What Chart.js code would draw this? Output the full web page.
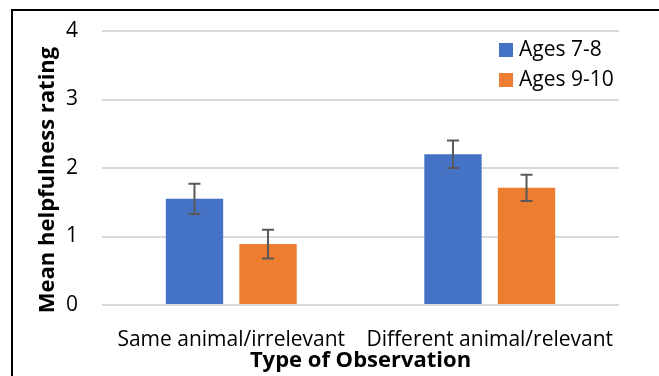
<!DOCTYPE html>
<html>
<head>
<meta charset="utf-8">
<script src="https://cdn.jsdelivr.net/npm/chart.js@4"></script>
<style>
  html, body { margin: 0; padding: 0; background: #fff; }
  #wrap { position: relative; width: 659px; height: 376px; overflow: hidden; }
  #frame { position: absolute; left: 11px; top: 9px; width: 800px; height: 500px;
           border-left: 2px solid #000; border-top: 2px solid #000; }
  canvas { position: absolute; left: 0; top: 0; }
</style>
</head>
<body>
<div id="wrap">
  <div id="frame"></div>
  <canvas id="grafico" width="659" height="376"></canvas>
</div>
<script>
const categorias = ["Same animal/irrelevant", "Different animal/relevant"];
const series = ["Ages 7-8", "Ages 9-10"];
const edades78 = [1.55, 2.20];
const error78 = [0.22, 0.20];
const edades910 = [0.89, 1.71];
const error910 = [0.21, 0.19];
const ticksY = [0, 1, 2, 3, 4];
const tituloY = "Mean helpfulness rating";

const fuente = "'Open Sans', sans-serif";

// error bars drawn from the y scale
const barrasError = {
  id: "barrasError",
  afterDatasetsDraw(chart) {
    const ctx = chart.ctx;
    const y = chart.scales.y;
    ctx.save();
    ctx.strokeStyle = "#595959";
    ctx.lineWidth = 2;
    chart.data.datasets.forEach((ds, i) => {
      chart.getDatasetMeta(i).data.forEach((bar, j) => {
        const v = ds.data[j], e = ds.errores[j];
        const top = y.getPixelForValue(v + e);
        const bot = y.getPixelForValue(v - e);
        ctx.beginPath();
        ctx.moveTo(bar.x, top); ctx.lineTo(bar.x, bot);
        ctx.moveTo(bar.x - 6, top); ctx.lineTo(bar.x + 6, top);
        ctx.moveTo(bar.x - 6, bot); ctx.lineTo(bar.x + 6, bot);
        ctx.stroke();
      });
    });
    ctx.restore();
  }
};

// legend inside the plot (top right) + y title, a bit below the axis centre like Excel
const extras = {
  id: "extras",
  afterDraw(chart) {
    const ctx = chart.ctx;
    ctx.save();
    ctx.font = "21px " + fuente;
    ctx.textBaseline = "middle";
    chart.data.datasets.forEach((ds, i) => {
      const cy = 50 + i * 30;
      ctx.fillStyle = ds.backgroundColor;
      ctx.fillRect(499, cy - 7, 14, 14);
      ctx.fillStyle = "#000";
      ctx.fillText(ds.label, 519, cy);
    });
    ctx.translate(48, 180);
    ctx.rotate(-Math.PI / 2);
    ctx.textAlign = "center";
    ctx.font = "bold 22px " + fuente;
    ctx.fillText(tituloY, 0, 0);
    ctx.restore();
  }
};

new Chart(document.getElementById("grafico"), {
  type: "bar",
  data: {
    labels: categorias,
    datasets: [
      { label: series[0], data: edades78, errores: error78, backgroundColor: "#4472C4" },
      { label: series[1], data: edades910, errores: error910, backgroundColor: "#ED7D31" }
    ]
  },
  options: {
    responsive: false,
    animation: false,
    layout: { padding: { left: 0, right: 40, top: 31, bottom: 0 } },
    categoryPercentage: 0.569,
    barPercentage: 0.78,
    plugins: { legend: { display: false }, tooltip: { enabled: false } },
    scales: {
      x: {
        grid: { display: false, drawTicks: false },
        border: { display: false },
        ticks: { color: "#000", font: { family: fuente, size: 21 }, padding: 22, maxRotation: 0 },
        title: { display: true, text: "Type of Observation", color: "#000",
                 font: { family: fuente, size: 22, weight: "bold" }, padding: { top: 0, bottom: 2 } },
        afterFit: s => { s.height = 71; s.paddingLeft = 0; s.paddingRight = 0; }
      },
      y: {
        min: 0, max: 4,
        afterBuildTicks: s => { s.ticks = ticksY.map(v => ({ value: v })); },
        grid: { color: "#D9D9D9", lineWidth: 2, drawTicks: false },
        border: { display: false },
        ticks: { color: "#000", font: { family: fuente, size: 21 }, padding: 24 },
        afterFit: s => { s.width = 102; s.paddingTop = 0; s.paddingBottom = 0; }
      }
    }
  },
  plugins: [barrasError, extras]
});
</script>
</body>
</html>
